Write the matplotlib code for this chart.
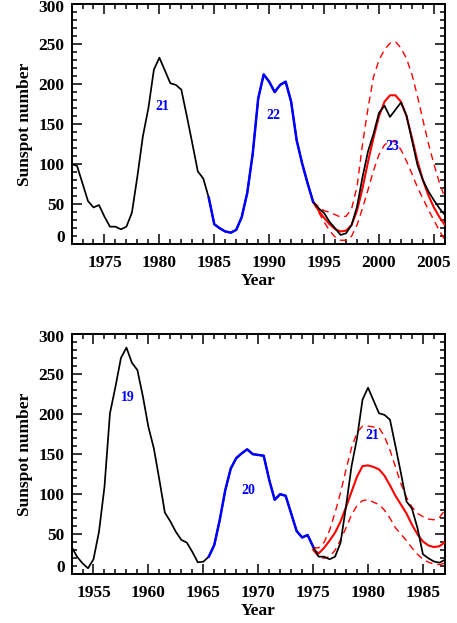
import numpy as np
import matplotlib
matplotlib.use("Agg")
import matplotlib.pyplot as plt
from matplotlib.ticker import MultipleLocator, FuncFormatter
from matplotlib.transforms import ScaledTranslation

# ---------------- data ----------------
# observed (smoothed) sunspot number, half-year samples 1953.0 ... 2006.0
obs_years = np.arange(1953.0, 2006.01, 0.5)
obs_values = [
    34.5, 22, 13.7, 7.5, 18.7, 53, 109, 201, 234, 270,          # 1953-1957.5
    283, 264, 255, 222, 184, 157, 118, 77, 66, 53,              # 1958-1962.5
    43, 39.5, 28, 15, 15.7, 22, 36.6, 68, 105, 132,             # 1963-1967.5
    145, 151, 156, 150, 149, 148, 118, 93, 100, 98,             # 1968-1972.5
    76, 54, 46, 49, 34.5, 22, 22, 18.7, 22, 39.5,               # 1973-1977.5
    85, 135, 170, 218, 233, 217, 201, 199, 193, 160,            # 1978-1982.5
    126, 91, 82, 58, 25, 20, 16, 14.5, 18, 34,                  # 1983-1987.5
    64, 113, 182, 212, 203, 190, 199, 203, 178, 130,            # 1988-1992.5
    101, 76, 53, 45, 39, 28, 20, 11.6, 13.7, 24,                # 1993-1997.5
    47, 84, 116, 138, 164, 173, 159, 168, 177, 161,             # 1998-2002.5
    130, 99, 80, 66, 55, 45, 36.6,                              # 2003-2006
]

# prediction of cycle 23 (top panel)
pred23_years = np.arange(1994.0, 2006.01, 0.5)
pred23_mid = [53, 42, 33, 25, 19, 16, 17, 24, 42, 70, 103, 133, 160,
              178, 186, 186, 178, 160, 133, 104, 80, 61, 46, 34, 24]
pred23_upper = [53, 47, 42, 40, 37, 34, 35, 44, 72, 125, 170, 209, 230,
                243, 251, 253, 245, 232, 212, 185, 155, 126, 100, 77, 58]
pred23_lower = [53, 40, 28, 17, 9, 5, 5, 10, 24, 45, 68, 92, 112,
                124, 129, 128, 118, 104, 88, 71, 57, 43, 30, 17, 5]

# prediction of cycle 21 (bottom panel)
pred21_years = np.arange(1975.0, 1987.01, 0.5)
pred21_mid = [31, 26, 33, 42, 52, 66, 84, 103, 122, 135, 136, 134, 131,
              123, 111, 98, 87, 76, 62, 50, 41, 36, 34, 35, 40]
pred21_upper = [33, 33, 40, 55, 77, 102, 131, 158, 177, 185, 185, 184, 183,
                172, 155, 134, 113, 96, 84, 76, 72, 69, 68, 71, 80]
pred21_lower = [30, 22, 20, 22, 30, 43, 58, 74, 86, 92, 93, 90, 87,
                80, 70, 58, 50, 42, 33, 25, 19, 15, 13, 12, 14]

# panel settings
top_xlim = (1972, 2006)
bot_xlim = (1953, 1987)
y_range = (0, 300)
top_blue = (1984.5, 1994.0)     # cycle 22 segment
bot_blue = (1965.5, 1975.0)     # cycle 20 segment
top_labels = [("21", 1980.3, 172), ("22", 1990.4, 161), ("23", 2001.2, 122)]
bot_labels = [("19", 1958.1, 221), ("20", 1969.1, 104), ("21", 1980.4, 173)]

# ---------------- style ----------------
FONT = "Liberation Serif"
plt.rcParams["font.family"] = FONT
plt.rcParams["font.weight"] = "bold"

BLUE = "#0000ff"
RED = "#ff0000"
TICK_FS = 12.5

fig = plt.figure(figsize=(4.57, 6.23), dpi=100)
ax_top = fig.add_axes([0.1565, 0.6079, 0.8170, 0.3857])
ax_bot = fig.add_axes([0.1565, 0.0782, 0.8170, 0.3857])

obs_years_arr = np.asarray(obs_years)
obs_vals_arr = np.asarray(obs_values, dtype=float)


def ylab_fmt(v, pos):
    # end labels are drawn separately (shifted inward like the original)
    if abs(v - y_range[0]) < 1e-6 or abs(v - y_range[1]) < 1e-6:
        return ""
    return f"{v:.0f}"


def draw_panel(ax, xlim, blue_seg, pyears, pmid, pup, plow, labels):
    dash = (0, (5, 3.5))
    ax.plot(pyears, pup, color=RED, lw=1.0, ls=dash, zorder=2)
    ax.plot(pyears, plow, color=RED, lw=1.0, ls=dash, zorder=2)
    ax.plot(pyears, pmid, color=RED, lw=1.5, zorder=3)
    ax.plot(obs_years_arr, obs_vals_arr, color="black", lw=1.25, zorder=4)
    m = (obs_years_arr >= blue_seg[0]) & (obs_years_arr <= blue_seg[1])
    ax.plot(obs_years_arr[m], obs_vals_arr[m], color=BLUE, lw=1.8, zorder=5)
    for txt, x, y in labels:
        ax.text(x, y, txt, color=BLUE, fontsize=10, fontweight="bold",
                ha="center", va="center", family=FONT, zorder=6)
    ax.xaxis.set_major_locator(MultipleLocator(5))
    ax.xaxis.set_minor_locator(MultipleLocator(1))
    ax.yaxis.set_major_locator(MultipleLocator(50))
    ax.yaxis.set_minor_locator(MultipleLocator(10))
    ax.yaxis.set_major_formatter(FuncFormatter(ylab_fmt))
    ax.tick_params(which="both", direction="in", top=True, right=True,
                   width=1.1, labelsize=TICK_FS)
    ax.tick_params(which="major", length=7)
    ax.tick_params(which="minor", length=3.5)
    ax.tick_params(axis="x", which="both", pad=8)
    ax.tick_params(axis="y", which="both", pad=5)
    for s in ax.spines.values():
        s.set_linewidth(1.4)
    ax.set_xlabel("Year", fontsize=12.5, fontweight="bold", labelpad=1)
    ax.set_ylabel("Sunspot number", fontsize=12.5, fontweight="bold",
                  labelpad=4)
    # end labels of the y axis, nudged inside like the original
    base = ax.get_yaxis_transform()
    for val, dy in ((y_range[0], 6), (y_range[1], -4)):
        tr = base + ScaledTranslation(-5 / 72, dy / 100, fig.dpi_scale_trans)
        ax.text(0, val, f"{val:.0f}", transform=tr, ha="right", va="center",
                fontsize=TICK_FS, fontweight="bold", family=FONT, clip_on=False)
    ax.set_autoscale_on(False)
    ax.set_xlim(*xlim)
    ax.set_ylim(*y_range)


draw_panel(ax_top, top_xlim, top_blue, pred23_years, pred23_mid,
           pred23_upper, pred23_lower, top_labels)
draw_panel(ax_bot, bot_xlim, bot_blue, pred21_years, pred21_mid,
           pred21_upper, pred21_lower, bot_labels)

fig.savefig("out.png", dpi=100)
